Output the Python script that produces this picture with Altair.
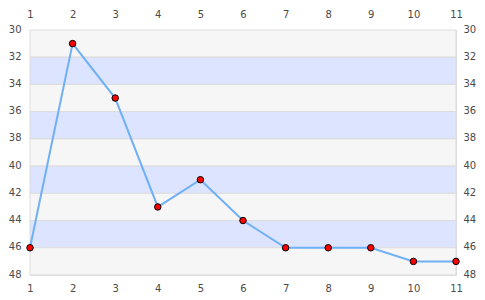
import altair as alt
import pandas as pd

xs = [1, 2, 3, 4, 5, 6, 7, 8, 9, 10, 11]
ys = [46, 31, 35, 43, 41, 44, 46, 46, 46, 47, 47]
band_lo = [30, 32, 34, 36, 38, 40, 42, 44, 46]
band_hi = [32, 34, 36, 38, 40, 42, 44, 46, 48]
band_kind = ["g", "b", "g", "b", "g", "b", "g", "b", "g"]

df = pd.DataFrame({"x": xs, "y": ys})
bands = pd.DataFrame({"lo": band_lo, "hi": band_hi, "k": band_kind})

xscale = alt.Scale(domain=[1, 11], nice=False, zero=False)
yscale = alt.Scale(domain=[30, 48], nice=False, zero=False, reverse=True)

lab = dict(labelFont="DejaVu Sans", labelFontSize=10, labelColor="#4a4a4a", ticks=False,
           domain=False, title=None, labelFlush=False, labelOverlap=False)
yvals = list(range(30, 49, 2))

band_layer = alt.Chart(bands).mark_rect(stroke="#dcdcdc", strokeWidth=1).encode(
    x=alt.value(0), x2=alt.value(426),
    y=alt.Y("lo:Q", scale=yscale, axis=alt.Axis(orient="left", values=yvals, grid=False,
                                                 labelPadding=9, labelOffset=-1, **lab)),
    y2="hi:Q",
    color=alt.Color("k:N", scale=alt.Scale(domain=["g", "b"], range=["#f6f6f6", "#dde4ff"]), legend=None),
)

line = alt.Chart(df).mark_line(color="#70b0f5", strokeWidth=2).encode(
    x=alt.X("x:Q", scale=xscale, axis=alt.Axis(orient="top", values=xs, grid=False, labelPadding=11, **lab)),
    y=alt.Y("y:Q", scale=yscale, axis=alt.Axis(orient="right", values=yvals, grid=False,
                                                labelPadding=7, labelOffset=-1, **lab)),
)

pts = alt.Chart(df).mark_point(filled=True, fill="#ff0000", stroke="#000", strokeWidth=1,
                               size=42, opacity=1, shape="circle").encode(
    x=alt.X("x:Q", scale=xscale, axis=alt.Axis(orient="bottom", values=xs, grid=False, labelPadding=8, **lab)),
    y=alt.Y("y:Q", scale=yscale, axis=None),
)

chart = alt.layer(band_layer, line, pts).resolve_axis(x="independent", y="independent").properties(
    width=426, height=245,
    autosize=alt.AutoSizeParams(type="none"),
    padding={"left": 30, "top": 30, "right": 29, "bottom": 25},
).configure_view(stroke="#dcdcdc", strokeWidth=1)

chart.save("out.html", embed_options={"renderer": "svg", "actions": False})
